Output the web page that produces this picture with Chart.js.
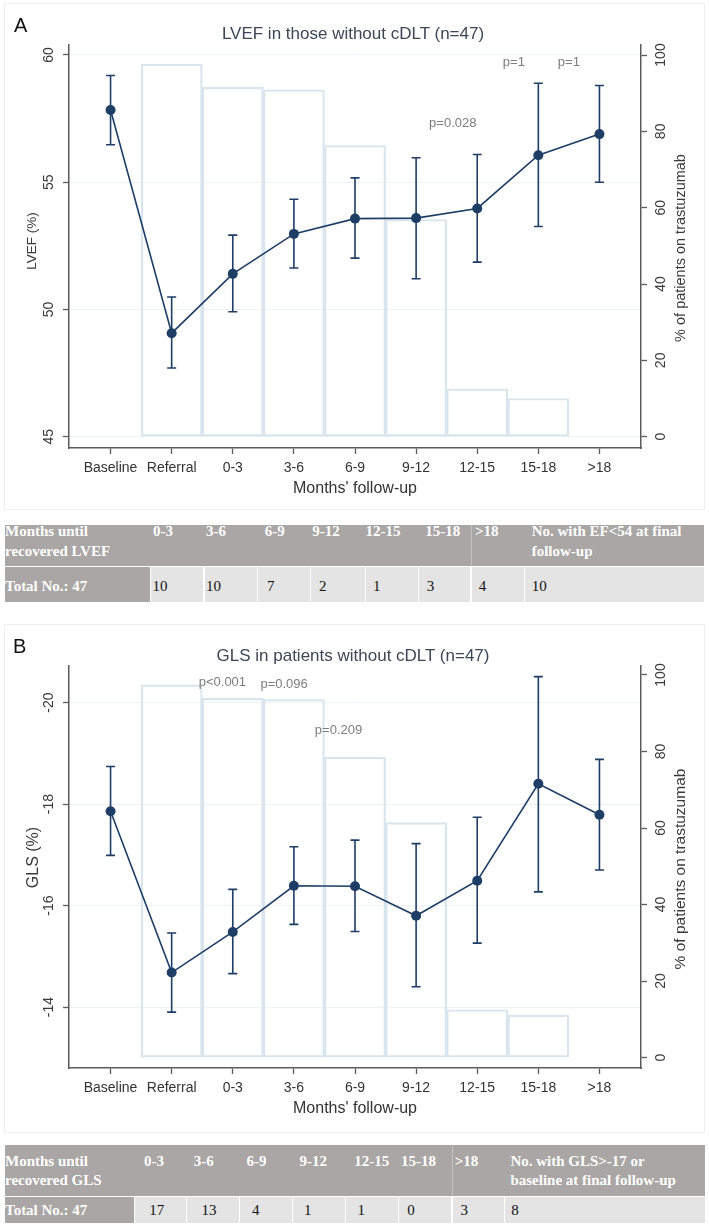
<!DOCTYPE html>
<html>
<head>
<meta charset="utf-8">
<script src="https://cdn.jsdelivr.net/npm/chart.js@4.4.1/dist/chart.umd.min.js"></script>
<style>
html,body{margin:0;padding:0;background:#fff}
body{width:709px;height:1225px;position:relative;overflow:hidden;font-family:"Liberation Sans",Arial,sans-serif}
.panel{position:absolute;left:4px;width:701px;border:1px solid #edf0f3;box-sizing:border-box;background:#fff}
canvas{position:absolute;left:0}
.ttl{position:absolute;left:353px;transform:translateX(-50%);font-size:17px;line-height:20px;color:#3d4757;white-space:nowrap}
.lbl{position:absolute;font-size:20px;line-height:1;color:#111}
</style>
</head>
<body>
<div class="panel" style="top:3px;height:507px"></div>
<div class="panel" style="top:624px;height:509px"></div>
<canvas id="chartA" width="709" height="515" style="top:0"></canvas>
<canvas id="chartB" width="709" height="523" style="top:612px"></canvas>
<div class="lbl" style="left:14px;top:15px">A</div>
<div class="ttl" style="top:24px">LVEF in those without cDLT (n=47)</div>
<div class="lbl" style="left:13px;top:636px">B</div>
<div class="ttl" style="top:646px">GLS in patients without cDLT (n=47)</div>
<script>
// ---------------- data ----------------
const categories = ['Baseline', 'Referral', '0-3', '3-6', '6-9', '9-12', '12-15', '15-18', '>18'];

const lvefMean = [57.84, 49.07, 51.40, 52.97, 53.57, 53.59, 53.97, 56.06, 56.89];
const lvefLow  = [56.47, 47.70, 49.91, 51.63, 52.02, 51.21, 51.86, 53.26, 55.00];
const lvefHigh = [59.19, 50.49, 52.92, 54.33, 55.17, 55.96, 56.09, 58.89, 58.80];
const lvefOnTrastuzumab = [null, 97.6, 91.5, 90.9, 76.3, 56.9, 12.5, 10.0, null];
const lvefTicks = [45, 50, 55, 60];
const lvefPText = ['p=0.028', 'p=1', 'p=1'];
const lvefPX = [5.6, 6.6, 7.5];
const lvefPY = [57.32, 59.69, 59.69];

const glsMean = [-17.86, -14.68, -15.48, -16.39, -16.38, -15.80, -16.49, -18.40, -17.79];
const glsLow  = [-18.74, -15.46, -16.32, -17.16, -17.29, -17.22, -17.74, -20.51, -18.88];
const glsHigh = [-16.99, -13.90, -14.66, -15.63, -15.49, -14.40, -15.26, -16.27, -16.70];
const glsOnTrastuzumab = [null, 97.4, 93.9, 93.6, 78.5, 61.4, 12.5, 11.1, null];
const glsTicks = [-20, -18, -16, -14];
const glsPText = ['p<0.001', 'p=0.096', 'p=0.209'];
const glsPX = [1.83, 2.84, 3.73];
const glsPY = [-20.39, -20.35, -19.45];

const pctTicks = [0, 20, 40, 60, 80, 100];

const tableCols = ['0-3', '3-6', '6-9', '9-12', '12-15', '15-18', '>18'];
const totalN = 47;
const lvefRecovered = [10, 10, 7, 2, 1, 3, 4];
const lvefNotRecovered = 10;
const glsRecovered = [17, 13, 4, 1, 1, 0, 3];
const glsNotRecovered = 8;

// ---------------- drawing ----------------
const FONT = '"Liberation Sans", Arial, Helvetica, sans-serif';
const NAVY = '#1e3e66';
const AXIS = '#5b5b5b';
const BARLINE = '#d8e5ee';
const GRID = '#edf2f6';

function rotText(ctx, text, x, y, size, color) {
  ctx.save();
  ctx.translate(x, y);
  ctx.rotate(-Math.PI / 2);
  ctx.font = size + 'px ' + FONT;
  ctx.fillStyle = color;
  ctx.textAlign = 'center';
  ctx.textBaseline = 'middle';
  ctx.fillText(text, 0, 0);
  ctx.restore();
}

function buildChart(id, c) {
  const decor = {
    id: 'decor',
    afterDatasetsDraw(chart) {
      const ctx = chart.ctx, xs = chart.scales.x, ys = chart.scales.y;
      ctx.save();
      ctx.strokeStyle = NAVY;
      ctx.lineWidth = 1.6;
      c.mean.forEach((m, i) => {
        const px = xs.getPixelForValue(i);
        const a = ys.getPixelForValue(c.low[i]);
        const b = ys.getPixelForValue(c.high[i]);
        ctx.beginPath();
        ctx.moveTo(px, a); ctx.lineTo(px, b);
        ctx.moveTo(px - 4.5, a); ctx.lineTo(px + 4.5, a);
        ctx.moveTo(px - 4.5, b); ctx.lineTo(px + 4.5, b);
        ctx.stroke();
      });
      ctx.font = '13px ' + FONT;
      ctx.fillStyle = '#7d7d7d';
      ctx.textAlign = 'center';
      ctx.textBaseline = 'middle';
      c.pText.forEach((t, i) => ctx.fillText(t, xs.getPixelForValue(c.pX[i]), ys.getPixelForValue(c.pY[i])));
      ctx.restore();
    },
    afterDraw(chart) {
      const ctx = chart.ctx, ys = chart.scales.y, y1 = chart.scales.y1;
      ys.ticks.forEach(t => rotText(ctx, String(t.value), ys.right - 20, ys.getPixelForValue(t.value), 14, '#3a3a3a'));
      y1.ticks.forEach(t => rotText(ctx, String(t.value), y1.left + 20, y1.getPixelForValue(t.value), 14, '#3a3a3a'));
      rotText(ctx, c.leftTitle, c.leftTitleX, c.leftTitleY, c.leftTitleSize, '#3a3a3a');
      rotText(ctx, c.rightTitle, c.rightTitleX, c.rightTitleY, c.rightTitleSize, '#3a3a3a');
    }
  };

  const barData = [];
  c.bars.forEach((v, i) => { if (v != null) barData.push({x: i, y: v}); });

  return new Chart(document.getElementById(id), {
    type: 'bar',
    data: {
      datasets: [
        {
          type: 'line',
          data: c.mean.map((v, i) => ({x: i, y: v})),
          xAxisID: 'x', yAxisID: 'y',
          borderColor: NAVY, borderWidth: 1.6,
          pointRadius: 5, pointBackgroundColor: NAVY, pointBorderColor: NAVY, pointBorderWidth: 0,
          tension: 0, order: 1
        },
        {
          type: 'bar',
          data: barData,
          xAxisID: 'x', yAxisID: 'y1',
          backgroundColor: 'rgba(255,255,255,0)',
          borderColor: BARLINE, borderWidth: 1.5, borderSkipped: false,
          barPercentage: 1, categoryPercentage: 1, order: 2
        }
      ]
    },
    options: {
      responsive: false, animation: false, devicePixelRatio: 1,
      layout: {padding: {top: c.padTop, left: 0, right: 0, bottom: 0}, autoPadding: false},
      plugins: {legend: {display: false}, tooltip: {enabled: false}, title: {display: false}},
      scales: {
        x: {
          type: 'linear', position: 'bottom', offset: false, min: -0.68, max: 8.68,
          afterBuildTicks: s => { s.ticks = categories.map((_, i) => ({value: i})); },
          afterFit: s => { s.height = c.xHeight; },
          ticks: {callback: v => categories[v], autoSkip: false, maxRotation: 0, minRotation: 0, padding: 6, color: '#333', font: {family: FONT, size: 14}},
          grid: {offset: false, drawOnChartArea: false, drawTicks: true, tickLength: 6, tickColor: AXIS, tickWidth: 1.3},
          border: {color: AXIS, width: 1.5},
          title: {display: true, text: "Months' follow-up", color: '#333', font: {family: FONT, size: 16}, padding: {top: 0, bottom: 17}}
        },
        y: {
          type: 'linear', position: 'left', reverse: c.reverse, min: c.yMin, max: c.yMax,
          afterBuildTicks: s => { s.ticks = c.yTicks.map(v => ({value: v})); },
          afterFit: s => { s.width = 69; },
          ticks: {display: false},
          grid: {color: GRID, lineWidth: 1, drawTicks: true, tickLength: 6, tickColor: AXIS, tickWidth: 1.3},
          border: {color: AXIS, width: 1.5}
        },
        y1: {
          type: 'linear', position: 'right', min: c.y1Min, max: c.y1Max,
          afterBuildTicks: s => { s.ticks = pctTicks.map(v => ({value: v})); },
          afterFit: s => { s.width = 68; },
          ticks: {display: false},
          grid: {drawOnChartArea: false, drawTicks: true, tickLength: 6, tickColor: AXIS, tickWidth: 1.3},
          border: {color: AXIS, width: 1.5}
        }
      }
    },
    plugins: [decor]
  });
}

buildChart('chartA', {
  mean: lvefMean, low: lvefLow, high: lvefHigh, bars: lvefOnTrastuzumab,
  yTicks: lvefTicks, yMin: 44.56, yMax: 60.39, reverse: false, y1Min: -2.96, y1Max: 102.62,
  pText: lvefPText, pX: lvefPX, pY: lvefPY,
  padTop: 45, xHeight: 67,
  leftTitle: 'LVEF (%)', leftTitleX: 32.5, leftTitleY: 241, leftTitleSize: 13.5,
  rightTitle: '% of patients on trastuzumab', rightTitleX: 681, rightTitleY: 248, rightTitleSize: 14.5
});

buildChart('chartB', {
  mean: glsMean, low: glsLow, high: glsHigh, bars: glsOnTrastuzumab,
  yTicks: glsTicks, yMin: -20.72, yMax: -12.80, reverse: true, y1Min: -2.72, y1Max: 102.35,
  pText: glsPText, pX: glsPX, pY: glsPY,
  padTop: 54, xHeight: 67,
  leftTitle: 'GLS (%)', leftTitleX: 34, leftTitleY: 245.5, leftTitleSize: 16,
  rightTitle: '% of patients on trastuzumab', rightTitleX: 681, rightTitleY: 257, rightTitleSize: 15.5
});

// ---------------- tables ----------------
const HEAD = '#a9a6a5';
const LIGHT = '#e4e4e4';

function buildTable(t) {
  const add = (css, text) => {
    const d = document.createElement('div');
    d.style.cssText = 'position:absolute;' + css;
    if (text != null) d.textContent = text;
    document.body.appendChild(d);
    return d;
  };
  const b = t.bounds;
  add(`left:${b[0]}px;top:${t.top}px;width:${b[b.length - 1] - b[0]}px;height:${t.headH}px;background:${HEAD}`);
  add(`left:${t.headDivX}px;top:${t.top}px;width:1px;height:${t.headH}px;background:#c4c2c1`);
  const rowTop = t.top + t.headH + 1;
  for (let i = 0; i < b.length - 1; i++) {
    const w = b[i + 1] - b[i] - (i < b.length - 2 ? 1 : 0);
    add(`left:${b[i]}px;top:${rowTop}px;width:${w}px;height:${t.rowH - 1}px;background:${i === 0 ? HEAD : LIGHT}`);
  }
  const txt = (x, cy, s, bold, color) =>
    add(`left:${x}px;top:${cy - 7.5}px;font:${bold ? 'bold ' : ''}15px/15px "Liberation Serif","Times New Roman",serif;color:${color};white-space:nowrap`, s);
  txt(t.firstX, t.line1, t.firstHead[0], true, '#fff');
  txt(t.firstX, t.line2, t.firstHead[1], true, '#fff');
  tableCols.forEach((c, i) => txt(t.headX[i], t.line1, c, true, '#fff'));
  txt(t.lastHeadX, t.line1, t.lastHead[0], true, '#fff');
  txt(t.lastHeadX, t.line2, t.lastHead[1], true, '#fff');
  txt(t.firstX, t.dataY, 'Total No.: ' + totalN, true, '#fff');
  t.counts.forEach((n, i) => txt(t.dataX[i], t.dataY, String(n), false, '#111'));
  txt(t.dataX[t.counts.length], t.dataY, String(t.rest), false, '#111');
}

buildTable({
  top: 525, headH: 41, rowH: 36,
  bounds: [5, 150.7, 204.5, 257.9, 311.3, 365.6, 418.6, 471.5, 524.9, 704],
  headDivX: 471,
  firstX: 5, firstHead: ['Months until', 'recovered LVEF'],
  headX: [153, 205.9, 264.7, 312.2, 365.6, 425.3, 475],
  lastHeadX: 531.7, lastHead: ['No. with EF<54 at final', 'follow-up'],
  line1: 531.7, line2: 551.7, dataY: 586.7,
  dataX: [152.5, 205.9, 267, 319, 373, 426.7, 478.7, 531.7],
  counts: lvefRecovered, rest: lvefNotRecovered
});

buildTable({
  top: 1145, headH: 51, rowH: 27,
  bounds: [5, 134.8, 186.9, 239.8, 293.2, 346.2, 399.1, 452.5, 504.5, 705],
  headDivX: 452,
  firstX: 5, firstHead: ['Months until', 'recovered GLS'],
  headX: [143.9, 193.7, 246.6, 299.5, 354.3, 401, 454.8],
  lastHeadX: 510.4, lastHead: ['No. with GLS>-17 or', 'baseline at final follow-up'],
  line1: 1161.7, line2: 1180, dataY: 1210,
  dataX: [149.3, 201.4, 252, 304, 357.5, 407.2, 460.6, 511.3],
  counts: glsRecovered, rest: glsNotRecovered
});
</script>
</body>
</html>
